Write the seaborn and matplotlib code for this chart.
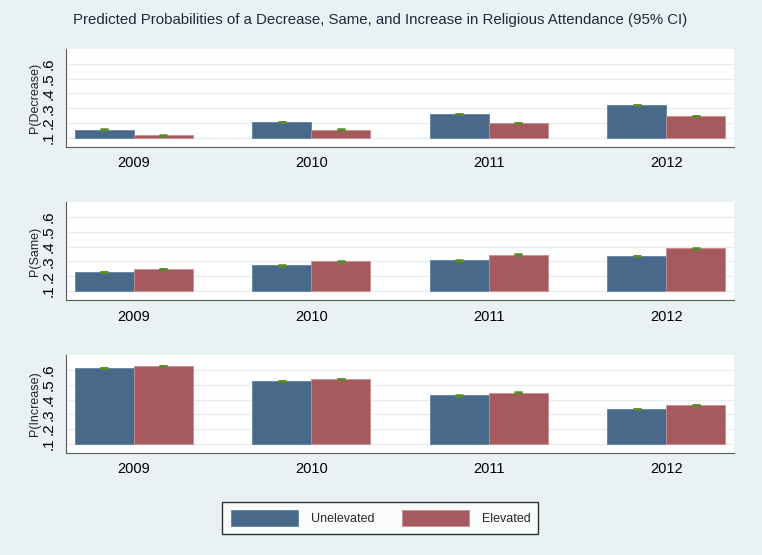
import matplotlib.pyplot as plt
import pandas as pd
import seaborn as sns
from matplotlib.patches import Patch

# --------------------------------------------------------------
# Data
# --------------------------------------------------------------
years = ["2009", "2010", "2011", "2012"]
groups = ["Unelevated", "Elevated"]
outcomes = ["Decrease", "Same", "Increase"]

p_decrease_unelevated = [0.156, 0.205, 0.261, 0.320]
p_decrease_elevated = [0.116, 0.156, 0.199, 0.248]
p_same_unelevated = [0.230, 0.273, 0.307, 0.339]
p_same_elevated = [0.252, 0.300, 0.347, 0.388]
p_increase_unelevated = [0.613, 0.524, 0.428, 0.339]
p_increase_elevated = [0.629, 0.542, 0.448, 0.361]

# half width of the 95% CI (very narrow)
ci_unelevated = [0.0005, 0.0005, 0.0005, 0.0005]
ci_elevated = [0.0005, 0.0005, 0.0005, 0.0005]

y_ticks = [0.1, 0.2, 0.3, 0.4, 0.5, 0.6]
y_tick_labels = [".1", ".2", ".3", ".4", ".5", ".6"]

panel_values = {
    "Decrease": (p_decrease_unelevated, p_decrease_elevated),
    "Same": (p_same_unelevated, p_same_elevated),
    "Increase": (p_increase_unelevated, p_increase_elevated),
}

# --------------------------------------------------------------
# Styling
# --------------------------------------------------------------
BG = "#e9f1f3"
BLUE = "#48698a"
RED = "#a55a5f"
BLUE_EDGE = "#5f82a3"
RED_EDGE = "#c98e93"
GREEN = "#5b8a2c"
AXIS = "#5a5a5a"
GRID = "#e6eef1"
TITLE = "#1c2b3c"

sns.set_style("white")
plt.rcParams["font.family"] = ["Liberation Sans", "DejaVu Sans"]

fig = plt.figure(figsize=(7.62, 5.55), dpi=100, facecolor=BG)

# axes positions in figure fractions (left, bottom, width, height)
positions = [
    (0.0866, 0.7357, 0.8767, 0.1760),
    (0.0866, 0.4595, 0.8767, 0.1760),
    (0.0866, 0.1843, 0.8767, 0.1755),
]

for outcome, pos in zip(outcomes, positions):
    unelev, elev = panel_values[outcome]
    df = pd.DataFrame({
        "year": years * 2,
        "group": [groups[0]] * 4 + [groups[1]] * 4,
        "prob": unelev + elev,
    })

    ax = fig.add_axes(pos)
    ax.set_facecolor("white")
    sns.barplot(
        data=df, x="year", y="prob", hue="group", hue_order=groups,
        palette=[BLUE, RED], saturation=1, width=0.665, errorbar=None,
        legend=False, ax=ax, zorder=3,
    )

    # bars start from the .1 baseline, like the original
    for container, edge, cis in zip(ax.containers, [BLUE_EDGE, RED_EDGE],
                                    [ci_unelevated, ci_elevated]):
        xs, tops = [], []
        for bar in container:
            top = bar.get_height()
            bar.set_y(0.1)
            bar.set_height(top - 0.1)
            bar.set_edgecolor(edge)
            bar.set_linewidth(0.6)
            xs.append(bar.get_x() + bar.get_width() / 2)
            tops.append(top)
        ax.errorbar(xs, tops, yerr=cis, fmt="none", ecolor=GREEN,
                    elinewidth=1.0, capsize=2.8, capthick=1.8, zorder=4)

    ax.set_xlim(-0.383, 3.381)
    ax.set_ylim(0.04, 0.70)
    ax.set_yticks(y_ticks)
    ax.set_yticklabels(y_tick_labels, rotation=90, va="center", fontsize=11)
    ax.yaxis.grid(True, color=GRID, linewidth=1.0, zorder=0)
    ax.xaxis.grid(False)
    ax.set_axisbelow(True)

    for side in ["top", "right"]:
        ax.spines[side].set_visible(False)
    for side in ["left", "bottom"]:
        ax.spines[side].set_color(AXIS)
        ax.spines[side].set_linewidth(0.8)

    ax.tick_params(axis="both", direction="out", length=4, width=0.8,
                   color=AXIS, labelcolor="black")
    ax.tick_params(axis="y", pad=3.5)
    ax.tick_params(axis="x", pad=3, labelsize=10.5)

    ax.set_xlabel("")
    ax.set_ylabel(f"P({outcome})", fontsize=9)
    ax.yaxis.set_label_coords(-0.037, 0.5)

# Title
fig.text(0.4987, 1 - 20 / 555,
         "Predicted Probabilities of a Decrease, Same, and Increase in "
         "Religious Attendance (95% CI)",
         ha="center", va="center", fontsize=10.8, color=TITLE)

# Legend
handles = [
    Patch(facecolor=BLUE, edgecolor=BLUE_EDGE, linewidth=0.6),
    Patch(facecolor=RED, edgecolor=RED_EDGE, linewidth=0.6),
]
leg = fig.legend(
    handles, groups, loc="center", bbox_to_anchor=(0.4993, 0.0667),
    ncol=2, frameon=True, fancybox=False, edgecolor="black", fontsize=9,
    handlelength=5.4, handleheight=1.5, handletextpad=1.0,
    columnspacing=2.2, borderpad=0.65,
)
leg.get_frame().set_linewidth(1.0)
leg.get_frame().set_facecolor("white")

fig.savefig("out.png", dpi=100, facecolor=BG)
